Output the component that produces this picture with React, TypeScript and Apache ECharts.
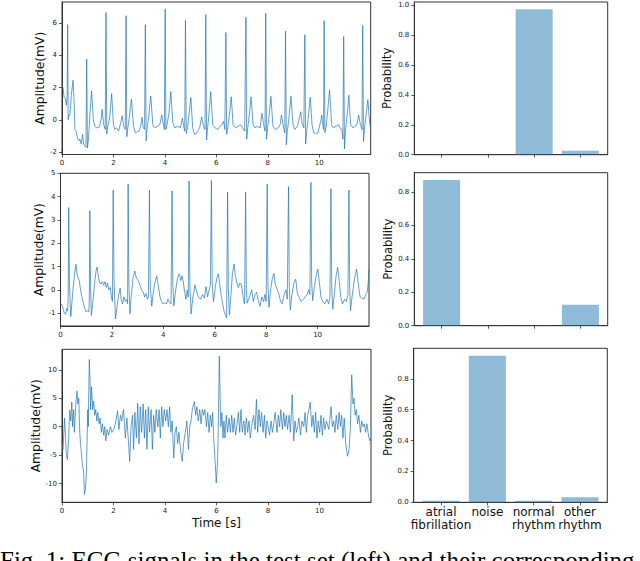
import React, { useEffect, useRef } from "react";
import * as echarts from "echarts";

// ECG record 1 (normal rhythm) : [time s, amplitude mV]
const ecg1: [number, number][] = [
  [0, 2.2], [0.05, 1.9], [0.08, 1.4], [0.13, 1.3], [0.17, 0.9], [0.2, 1.5], [0.22, 5.9], [0.24, 0.0], [0.27, 0.3], [0.31, 0.3],
  [0.36, 1.5], [0.43, 2.45], [0.47, 1.2], [0.5, -0.6], [0.55, -0.7], [0.57, -0.9], [0.62, -1.2], [0.66, -1.3], [0.7, -1.2], [0.75, -1.5],
  [0.8, -0.9], [0.84, -1.5], [0.88, -1.6], [0.93, -1.7], [0.96, 3.76], [0.99, -1.75], [1.03, -1.2], [1.08, 0.2], [1.15, 1.79], [1.22, 0.0],
  [1.27, -0.4], [1.35, -0.5], [1.45, -0.45], [1.52, 0.0], [1.56, 0.65], [1.62, -0.3], [1.68, -0.6], [1.71, 6.66], [1.74, -0.9], [1.78, -0.4],
  [1.85, 0.1], [1.93, 1.62], [2.0, -0.3], [2.05, -0.6], [2.12, -0.5], [2.2, -0.7], [2.28, -0.2], [2.34, 0.25], [2.4, -0.4], [2.46, -0.6],
  [2.49, 6.45], [2.52, -1.05], [2.56, -0.5], [2.62, 0.2], [2.7, 1.27], [2.78, -0.4], [2.85, -0.8], [2.92, -0.75], [3.0, -0.7], [3.07, -0.3],
  [3.11, 0.15], [3.16, -0.5], [3.21, -0.6], [3.24, 5.9], [3.27, -1.3], [3.31, -0.5], [3.37, 0.2], [3.45, 1.48], [3.53, -0.3], [3.6, -0.5],
  [3.7, -0.4], [3.8, -0.3], [3.88, 0.3], [3.93, -0.2], [3.98, -0.6], [4.01, 6.86], [4.04, -0.6], [4.08, -0.3], [4.15, 0.3], [4.23, 1.75],
  [4.31, -0.2], [4.38, -0.5], [4.5, -0.4], [4.6, -0.5], [4.68, 0.1], [4.73, -0.4], [4.77, -0.7], [4.8, 6.16], [4.83, -0.85], [4.88, -0.5],
  [4.93, 0.2], [5.01, 1.38], [5.08, -0.5], [5.15, -0.9], [5.25, -0.8], [5.35, -0.5], [5.43, 0.18], [5.5, -0.4], [5.56, -0.6], [5.59, 6.53],
  [5.62, -1.25], [5.66, -0.5], [5.71, 0.3], [5.78, 1.75], [5.86, -0.3], [5.95, -0.5], [6.05, -0.6], [6.15, -0.4], [6.22, -0.3], [6.28, -0.1],
  [6.33, -0.6], [6.37, 5.41], [6.4, -0.9], [6.45, -0.4], [6.5, 0.2], [6.58, 1.42], [6.65, -0.3], [6.75, -0.5], [6.85, -0.4], [6.95, -0.3],
  [7.02, -0.5], [7.1, -0.7], [7.15, 6.35], [7.18, -1.2], [7.22, -0.5], [7.28, 0.3], [7.35, 1.42], [7.43, -0.3], [7.5, -0.5], [7.6, -0.4],
  [7.7, -0.5], [7.77, 0.4], [7.84, -0.3], [7.89, -0.7], [7.92, 6.6], [7.95, -1.2], [7.99, -0.5], [8.05, 0.2], [8.12, 1.46], [8.2, -0.4],
  [8.3, -0.6], [8.4, -0.5], [8.48, -0.3], [8.53, 0.3], [8.6, -0.4], [8.66, -0.8], [8.69, 5.5], [8.72, -1.55], [8.76, -0.7], [8.82, 0.1],
  [8.9, 1.46], [8.98, -0.3], [9.05, -0.6], [9.15, -0.4], [9.28, 0.5], [9.33, -0.2], [9.4, -0.5], [9.44, 5.27], [9.47, -1.5], [9.52, -0.6],
  [9.57, 0.1], [9.65, 1.4], [9.72, -0.3], [9.78, -0.8], [9.85, -0.85], [9.95, -0.8], [10.04, -0.2], [10.1, 0.3], [10.14, -0.3], [10.17, -0.6],
  [10.19, 6.14], [10.22, -0.8], [10.27, -0.4], [10.32, 0.4], [10.4, 1.87], [10.48, -0.3], [10.55, -0.5], [10.65, -0.4], [10.75, -0.3], [10.8, -0.5],
  [10.88, -0.6], [10.92, -1.2], [10.95, 5.17], [10.98, -1.8], [11.02, -0.6], [11.08, 0.2], [11.15, 1.52], [11.22, -0.3], [11.3, -0.5], [11.4, -0.4],
  [11.48, -0.2], [11.53, 0.3], [11.6, -0.3], [11.66, -0.6], [11.69, 5.85], [11.72, -1.35], [11.76, -0.5], [11.82, 0.3], [11.89, 1.25], [11.95, 0.0],
  [12.0, -0.6],
];

// ECG record 2 (atrial fibrillation)
const ecg2: [number, number][] = [
  [0.0, -0.6], [0.05, -0.62], [0.1, -0.8], [0.15, -1.0], [0.2, -1.05], [0.24, -0.8], [0.28, -0.9], [0.3, -0.3], [0.32, 3.53], [0.35, 0.2],
  [0.4, -1.15], [0.44, -0.6], [0.5, 0.2], [0.55, 0.7], [0.6, 1.1], [0.64, 0.7], [0.7, 0.45], [0.73, 0.4], [0.78, 0.0], [0.83, -0.3],
  [0.9, -0.6], [0.96, -0.85], [1.0, -0.95], [1.05, -0.9], [1.1, -0.95], [1.12, -0.5], [1.14, 3.4], [1.17, 0.1], [1.2, -1.1], [1.25, -0.6],
  [1.32, 0.2], [1.38, 0.8], [1.42, 0.98], [1.47, 0.6], [1.52, 0.3], [1.58, 0.25], [1.63, 0.35], [1.68, 0.2], [1.73, 0.35], [1.78, 0.1],
  [1.83, 0.3], [1.88, 0.0], [1.94, 0.1], [1.98, -0.3], [2.02, -0.5], [2.05, 4.28], [2.08, 0.5], [2.14, -1.25], [2.19, -0.8], [2.25, -0.3],
  [2.32, 0.07], [2.36, -0.4], [2.41, -0.6], [2.47, -0.3], [2.52, -0.5], [2.58, -0.4], [2.61, -0.6], [2.63, 4.53], [2.66, 0.3], [2.7, -1.03],
  [2.75, -0.3], [2.82, 0.5], [2.89, 0.81], [2.95, 0.5], [3.01, 0.43], [3.06, 0.29], [3.11, 0.15], [3.16, 0.0], [3.22, -0.1], [3.27, -0.3],
  [3.33, -0.15], [3.38, -0.4], [3.42, -0.3], [3.46, 4.28], [3.49, 0.2], [3.55, -0.7], [3.6, -0.2], [3.67, 0.3], [3.74, 0.6], [3.8, 0.2],
  [3.87, -0.3], [3.93, -0.5], [3.98, -0.6], [4.05, -0.55], [4.12, -0.6], [4.18, -0.4], [4.25, -0.55], [4.3, -0.6], [4.34, 4.24], [4.37, 0.2],
  [4.41, -0.69], [4.47, -0.1], [4.55, 0.5], [4.62, 0.69], [4.68, 0.4], [4.73, 0.6], [4.78, 0.3], [4.83, -0.1], [4.88, -0.4], [4.93, 0.0],
  [4.97, -0.3], [5.0, 4.67], [5.03, 0.3], [5.08, -1.03], [5.14, -0.4], [5.23, 0.21], [5.3, -0.1], [5.36, -0.3], [5.45, -0.4], [5.52, -0.2],
  [5.6, -0.35], [5.66, 0.14], [5.72, -0.3], [5.78, 0.0], [5.83, 0.2], [5.87, 4.69], [5.9, 0.3], [5.95, -0.5], [6.02, 0.1], [6.08, 0.5],
  [6.14, 0.69], [6.2, 0.2], [6.26, -0.3], [6.31, -0.6], [6.36, -0.9], [6.42, -1.1], [6.46, -1.2], [6.5, 4.19], [6.53, 0.0], [6.57, -1.07],
  [6.63, -0.2], [6.69, 0.7], [6.75, 1.11], [6.8, 0.6], [6.86, 0.3], [6.92, 0.1], [6.98, 0.3], [7.04, 0.2], [7.1, -0.3], [7.16, -0.6],
  [7.2, 4.2], [7.23, 0.0], [7.26, -0.57], [7.32, -0.4], [7.38, -0.2], [7.44, 0.0], [7.5, -0.5], [7.57, -0.2], [7.63, -0.1], [7.7, -0.5],
  [7.76, -0.7], [7.83, -0.3], [7.9, -0.5], [7.95, -0.2], [8.0, -0.5], [8.04, 4.54], [8.07, 0.2], [8.11, -0.74], [8.17, 0.0], [8.24, 0.5],
  [8.3, 0.71], [8.36, 0.2], [8.44, 0.0], [8.5, -0.2], [8.56, -0.5], [8.62, -0.6], [8.7, -0.2], [8.77, 0.0], [8.82, -0.4], [8.87, 4.43],
  [8.9, 0.1], [8.94, -0.86], [9.0, -0.2], [9.08, 0.3], [9.15, 0.46], [9.22, -0.2], [9.28, -0.3], [9.35, -0.5], [9.45, -0.4], [9.52, -0.3],
  [9.6, -0.2], [9.65, 0.0], [9.7, -0.2], [9.74, 4.61], [9.77, 0.3], [9.81, -0.46], [9.87, 0.1], [9.94, 0.6], [10.01, 0.89], [10.07, 0.3],
  [10.13, -0.3], [10.2, -0.5], [10.28, -0.6], [10.36, -0.4], [10.43, -0.6], [10.48, -0.3], [10.52, 4.34], [10.55, 0.1], [10.59, -0.83], [10.65, -0.2],
  [10.72, 0.6], [10.78, 0.96], [10.84, 0.4], [10.9, -0.3], [10.97, -0.6], [11.05, -0.4], [11.12, -0.5], [11.18, -0.2], [11.22, 4.28], [11.25, 0.0],
  [11.28, -0.9], [11.34, -0.3], [11.44, 0.5], [11.52, 0.89], [11.58, 0.3], [11.65, -0.3], [11.72, -0.35], [11.8, -0.4], [11.87, -0.2], [11.93, -0.1],
  [11.97, 0.3], [12.0, 0.9],
];

// ECG record 3 (noise)
const ecg3: [number, number][] = [
  [0.0, -2.9], [0.04, -4], [0.1, 1.5], [0.17, -4.9], [0.21, -5.8], [0.26, -2], [0.3, 2.9], [0.34, 1], [0.38, 4.3], [0.41, 0],
  [0.45, 3], [0.48, -1], [0.53, 3.5], [0.58, 6.3], [0.62, 4], [0.65, 5], [0.69, -1], [0.72, -3], [0.76, -5], [0.8, -7],
  [0.84, -8], [0.87, -11.9], [0.91, -11], [0.95, -8], [0.97, -3], [1.0, 3], [1.02, 0], [1.06, 11.8], [1.09, 8], [1.11, 3],
  [1.15, 7], [1.19, 3], [1.23, 4.5], [1.27, 2], [1.31, 3], [1.35, 1], [1.39, 2.5], [1.44, 0.5], [1.48, 1.5], [1.53, -1],
  [1.57, 0.5], [1.62, -1.5], [1.66, 0], [1.7, -2.5], [1.75, -0.5], [1.81, -1.5], [1.88, 0], [1.94, -1], [2.01, -0.5], [2.07, 0.5],
  [2.16, 2.8], [2.21, -0.5], [2.27, 2], [2.32, 1], [2.39, 3], [2.46, -2], [2.52, 1.5], [2.63, -6.1], [2.68, 0], [2.74, 2],
  [2.78, -4], [2.83, 2.5], [2.89, -2], [2.94, 4.1], [2.99, -3], [3.04, 3.5], [3.09, -1], [3.15, 4], [3.2, -2], [3.25, 3],
  [3.3, -4], [3.35, 3.5], [3.4, -1], [3.46, 3], [3.51, -4], [3.56, 2], [3.61, -1], [3.66, 3], [3.72, 0], [3.77, 3],
  [3.82, -2], [3.87, 3.5], [3.92, 0], [3.97, 3], [4.03, 1], [4.08, 3], [4.13, 0], [4.18, 3.5], [4.23, -1], [4.28, 1],
  [4.34, -5.5], [4.39, -1], [4.44, 0], [4.49, -3], [4.54, -1], [4.6, -4], [4.67, -6.1], [4.72, -3], [4.79, -1], [4.85, 1],
  [4.91, -4], [4.96, 0], [5.01, 1], [5.06, 3], [5.14, 4.4], [5.19, 2], [5.24, 3.5], [5.29, 1], [5.35, 3], [5.4, 0.5],
  [5.45, 3], [5.5, 2], [5.55, 3], [5.61, 0], [5.66, 2.5], [5.71, -1], [5.76, 2], [5.81, 0], [5.85, 2.5], [5.89, -2],
  [5.93, -5], [5.97, -8], [5.99, -9.9], [6.03, -7], [6.06, -3], [6.11, 12.4], [6.15, 3], [6.17, 0], [6.21, 2.5], [6.25, -2],
  [6.29, 1], [6.33, -2], [6.38, 2], [6.43, -1], [6.49, 1.5], [6.54, -1], [6.59, 2], [6.64, -1], [6.69, 1.5], [6.74, -1.5],
  [6.8, 0.5], [6.85, 2.5], [6.9, -1], [6.95, 3], [7.0, -1], [7.06, 1], [7.11, -1.5], [7.16, 1.5], [7.21, -1], [7.26, 1],
  [7.31, -2], [7.38, 0.5], [7.44, 2], [7.5, -0.5], [7.55, 4.8], [7.6, -1], [7.65, 3], [7.7, 0], [7.75, 2.5], [7.81, -1],
  [7.86, 2], [7.91, -2], [7.96, 1], [8.01, 0], [8.06, -1.5], [8.12, 1], [8.17, -1], [8.22, 0.5], [8.28, 2.5], [8.35, -1],
  [8.4, 2], [8.45, 0], [8.5, 3], [8.56, -0.5], [8.61, 2.5], [8.66, 0], [8.71, 2], [8.76, -0.5], [8.82, 2], [8.87, -1],
  [8.94, 5.6], [9.0, -2.5], [9.05, 1], [9.1, -1], [9.15, 0], [9.2, 1.5], [9.26, -1.5], [9.32, 1], [9.39, 0], [9.44, 2.5],
  [9.49, -1], [9.54, 2], [9.59, 3], [9.64, 4.3], [9.7, 0], [9.75, 2], [9.8, -1], [9.85, 2.5], [9.9, -2], [9.95, 1],
  [10.01, -1], [10.06, 2], [10.11, -1.5], [10.16, 1.5], [10.21, -0.5], [10.27, 1], [10.36, -0.5], [10.45, 3.5], [10.5, 0], [10.55, 1],
  [10.6, -1], [10.65, 2], [10.71, -0.5], [10.76, 2.5], [10.81, 0], [10.86, 2], [10.91, -2], [10.96, 1.5], [11.02, -3], [11.09, -5.2],
  [11.15, -4], [11.2, 0], [11.25, 9.1], [11.3, 4], [11.34, 5], [11.38, 2], [11.43, 3], [11.48, 0.5], [11.53, 2], [11.59, -1],
  [11.64, 1], [11.69, 0], [11.74, 0.5], [11.79, -1], [11.84, 0.5], [11.9, -1.5], [11.95, -2.5], [12.0, -2],
];

const classes = ["atrial\nfibrillation", "noise", "normal\nrhythm", "other\nrhythm"];
const prob1 = [0.001, 0.001, 0.973, 0.027];
const prob2 = [0.872, 0.0005, 0.0005, 0.125];
const prob3 = [0.01, 0.95, 0.01, 0.032];

const timeTicks = [0, 2, 4, 6, 8, 10];
const ampTicks1 = [-2, 0, 2, 4, 6];
const ampTicks2 = [-1, 0, 1, 2, 3, 4, 5];
const ampTicks3 = [-10, -5, 0, 5, 10];
const probTicks1 = [0, 0.2, 0.4, 0.6, 0.8, 1.0];
const probTicks23 = [0, 0.2, 0.4, 0.6, 0.8];
const classTicks = [0, 1, 2, 3];

const caption = "Fig. 1: ECG signals in the test set (left) and their corresponding";

export default function App() {
  const ref = useRef<HTMLDivElement>(null);
  useEffect(() => {
    document.body.style.margin = "0";
    const chart = echarts.init(ref.current!, null, { renderer: "svg" });
    const FONT = "DejaVu Sans";
    const frame = "#333";
    const grids = [
      { left: 62, top: 2, width: 308.7, height: 152.5 },
      { left: 60.5, top: 173.3, width: 308.5, height: 152.7 },
      { left: 62, top: 349.3, width: 309, height: 153 },
      { left: 414.3, top: 2, width: 193.4, height: 152.7 },
      { left: 414.3, top: 172.7, width: 193.4, height: 153 },
      { left: 413.7, top: 348.3, width: 193.6, height: 154 },
    ].map((g) => ({ ...g, show: true, borderColor: frame, borderWidth: 1, containLabel: false }));

    const tickStyle = { show: true, length: 3, lineStyle: { color: frame, width: 0.8 } };
    const lineStyleAxis = { show: true, onZero: false, lineStyle: { color: frame, width: 1 } };
    const lbl = { fontSize: 7, color: "#222", fontFamily: FONT, margin: 5 };

    const xAxes: any[] = [];
    const yAxes: any[] = [];
    const ecgY = [
      { min: -2.15, max: 7.3, ticks: ampTicks1, gap: 10 },
      { min: -1.55, max: 5, ticks: ampTicks2, gap: 13 },
      { min: -13.3, max: 13.6, ticks: ampTicks3, gap: 14 },
    ];
    for (let i = 0; i < 3; i++) {
      xAxes.push({
        type: "value", gridIndex: i, min: 0, max: 12,
        axisLine: lineStyleAxis,
        axisTick: { ...tickStyle, customValues: timeTicks },
        axisLabel: { ...lbl, customValues: timeTicks },
        splitLine: { show: false },
        name: i === 2 ? "Time [s]" : "",
        nameLocation: "middle", nameGap: 15,
        nameTextStyle: { fontSize: 12, fontFamily: FONT, color: "#111" },
      });
      yAxes.push({
        type: "value", gridIndex: i, min: ecgY[i].min, max: ecgY[i].max,
        axisLine: lineStyleAxis,
        axisTick: { ...tickStyle, customValues: ecgY[i].ticks },
        axisLabel: { ...lbl, customValues: ecgY[i].ticks },
        splitLine: { show: false },
        name: "Amplitude(mV)", nameLocation: "middle", nameRotate: 90, nameGap: ecgY[i].gap,
        nameTextStyle: { fontSize: 12.3, fontFamily: FONT, color: "#111" },
      });
    }
    const probY = [
      { max: 1.022, ticks: probTicks1, gap: 21 },
      { max: 0.916, ticks: probTicks23, gap: 20 },
      { max: 0.9975, ticks: probTicks23, gap: 19.5 },
    ];
    for (let i = 0; i < 3; i++) {
      xAxes.push({
        type: "value", gridIndex: 3 + i, min: -0.59, max: 3.59,
        axisLine: lineStyleAxis,
        axisTick: { ...tickStyle, customValues: classTicks },
        axisLabel: i === 2
          ? { fontSize: 12, lineHeight: 13, color: "#111", fontFamily: FONT, margin: 3, customValues: classTicks, formatter: (v: number) => classes[Math.round(v)] }
          : { show: false },
        splitLine: { show: false },
      });
      yAxes.push({
        type: "value", gridIndex: 3 + i, min: 0, max: probY[i].max,
        axisLine: lineStyleAxis,
        axisTick: { ...tickStyle, customValues: probY[i].ticks },
        axisLabel: { ...lbl, customValues: probY[i].ticks, formatter: (v: number) => v.toFixed(1) },
        splitLine: { show: false },
        name: "Probability", nameLocation: "middle", nameRotate: 90, nameGap: probY[i].gap,
        nameTextStyle: { fontSize: 11.6, fontFamily: FONT, color: "#111" },
      });
    }
    const ecgs = [ecg1, ecg2, ecg3];
    const probs = [prob1, prob2, prob3];
    const series: any[] = [];
    ecgs.forEach((d, i) => {
      series.push({
        type: "line", xAxisIndex: i, yAxisIndex: i, data: d, showSymbol: false, symbol: "none",
        lineStyle: { color: "#1f77b4", width: 0.7 }, silent: true,
      });
    });
    probs.forEach((p, i) => {
      const bw = (0.8 * grids[3 + i].width) / 4.18;
      series.push({
        type: "bar", xAxisIndex: 3 + i, yAxisIndex: 3 + i, data: p.map((v, k) => [k, v]),
        barWidth: bw, itemStyle: { color: "rgba(31,119,180,0.5)" }, silent: true,
      });
    });

    chart.setOption({
      animation: false,
      grid: grids,
      xAxis: xAxes,
      yAxis: yAxes,
      series,
      graphic: [
        {
          type: "text", x: 0, y: 560,
          style: { text: caption, fontSize: 25, fontFamily: "Liberation Serif", fill: "#000", verticalAlign: "middle", align: "left" },
        },
      ],
    });
    return () => chart.dispose();
  }, []);
  return <div ref={ref} style={{ width: 640, height: 561, overflow: "hidden" }} />;
}
